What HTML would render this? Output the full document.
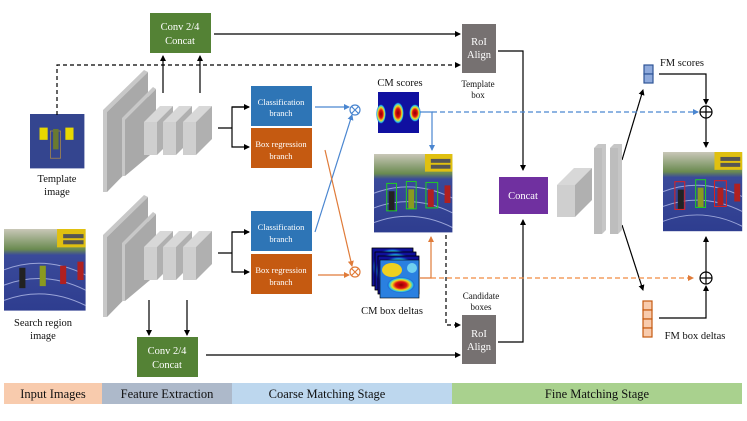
<!DOCTYPE html>
<html><head><meta charset="utf-8"><style>
body{margin:0;background:#fff}
svg{display:block;font-family:"Liberation Serif",serif}
</style></head><body>
<svg width="747" height="421" viewBox="0 0 747 421" xmlns="http://www.w3.org/2000/svg">
<defs>
<marker id="a" markerWidth="6" markerHeight="6" refX="5" refY="3" orient="auto" markerUnits="userSpaceOnUse"><path d="M0,0 L6,3 L0,6z" fill="#000"/></marker>
<marker id="ab" markerWidth="6" markerHeight="6" refX="5" refY="3" orient="auto" markerUnits="userSpaceOnUse"><path d="M0,0 L6,3 L0,6z" fill="#4a86d0"/></marker>
<marker id="ao" markerWidth="6" markerHeight="6" refX="5" refY="3" orient="auto" markerUnits="userSpaceOnUse"><path d="M0,0 L6,3 L0,6z" fill="#e07b39"/></marker>
<g id="bb">
<polygon points="103,110 144,70 148,72 107,112 107,192 103,192" fill="#c8c8c8"/>
<polygon points="107,112 148,72 148,150 107,192" fill="#a9a9a9"/>
<polygon points="122,118 153,87 156,89 125,120 125,176 122,176" fill="#c8c8c8"/>
<polygon points="125,120 156,89 156,150 125,176" fill="#a9a9a9"/>
<g id="cube"><polygon points="144,122 157,122 173,106 160,106" fill="#d8d8d8"/><rect x="144" y="122" width="13" height="33" fill="#cfcfcf"/><polygon points="157,122 173,106 173,139 157,155" fill="#b0b0b0"/></g>
<use href="#cube" x="19"/><use href="#cube" x="39"/>
</g>
<linearGradient id="track" x1="0" y1="0" x2="0" y2="1"><stop offset="0" stop-color="#c9c7b8"/><stop offset="0.25" stop-color="#6a8a50"/><stop offset="0.32" stop-color="#3a4a9a"/><stop offset="1" stop-color="#2e3d8f"/></linearGradient>
<radialGradient id="hot"><stop offset="0" stop-color="#8a0000"/><stop offset="0.4" stop-color="#e01010"/><stop offset="0.65" stop-color="#f0e020"/><stop offset="0.85" stop-color="#20c0f0"/><stop offset="1" stop-color="#1010b0" stop-opacity="0"/></radialGradient>
<g id="scene">
<rect width="80" height="80" fill="url(#track)"/>
<rect x="52" y="0" width="28" height="18" fill="#e0c010"/><rect x="58" y="5" width="20" height="4" fill="#555"/><rect x="58" y="11" width="20" height="4" fill="#555"/>
<path d="M0,40 Q40,25 80,45 M0,55 Q40,40 80,60 M0,70 Q40,55 80,75" stroke="#9aa4d8" stroke-width="1" fill="none"/>
<rect x="15" y="38" width="6" height="20" fill="#222"/><rect x="35" y="36" width="6" height="20" fill="#8a9a20"/><rect x="55" y="36" width="6" height="18" fill="#b02020"/><rect x="72" y="32" width="6" height="18" fill="#b02020"/>
</g>
<g id="hm"><rect width="41" height="38" fill="#10109a"/><rect width="41" height="38" fill="url(#hot)" opacity=".9"/><ellipse cx="24" cy="22" rx="10" ry="6" fill="url(#hot)"/></g>
</defs>

<rect x="4" y="383" width="98" height="21" fill="#f8cbad"/>
<rect x="102" y="383" width="130" height="21" fill="#adb9ca"/>
<rect x="232" y="383" width="220" height="21" fill="#bdd7ee"/>
<rect x="452" y="383" width="290" height="21" fill="#a9d18e"/>
<g font-size="12.5" text-anchor="middle" fill="#111">
<text x="53" y="398">Input Images</text><text x="167" y="398">Feature Extraction</text><text x="327" y="398">Coarse Matching Stage</text><text x="597" y="398">Fine Matching Stage</text>
</g>

<use href="#bb"/><use href="#bb" y="125"/>

<g transform="translate(30,114) scale(0.68)"><rect width="80" height="80" fill="#34458f"/><rect x="14" y="20" width="12" height="18" fill="#e8d800"/><rect x="52" y="20" width="12" height="18" fill="#e8d800"/><rect x="30" y="25" width="15" height="40" fill="none" stroke="#b89040"/><rect x="34" y="22" width="8" height="30" fill="#6a7a30"/></g>
<g transform="translate(4,229) scale(1.02)"><use href="#scene"/></g>
<g transform="translate(374,154) scale(0.98)"><use href="#scene"/><g fill="none" stroke="#20d020" stroke-width="1"><rect x="13" y="30" width="10" height="28"/><rect x="33" y="28" width="10" height="28"/><rect x="53" y="29" width="12" height="26"/></g></g>
<g transform="translate(663,152) scale(0.99)"><use href="#scene"/><g fill="none" stroke-width="1"><rect x="12" y="30" width="10" height="28" stroke="#e02020"/><rect x="33" y="28" width="10" height="28" stroke="#20d020"/><rect x="52" y="29" width="12" height="26" stroke="#e02020"/></g></g>

<g font-size="10.5" text-anchor="middle" fill="#111">
<text x="57" y="182">Template</text><text x="57" y="195">image</text>
<text x="43" y="326">Search region</text><text x="43" y="339">image</text>
</g>

<rect x="150" y="13" width="61" height="40" fill="#548235"/>
<rect x="137" y="337" width="61" height="40" fill="#548235"/>
<g font-size="10.5" text-anchor="middle" fill="#fff">
<text x="180" y="30">Conv 2/4</text><text x="180" y="44">Concat</text>
<text x="167" y="354">Conv 2/4</text><text x="167" y="368">Concat</text>
</g>
<g stroke="#000" stroke-width="1.2" fill="none">
<line x1="163" y1="93" x2="163" y2="56" marker-end="url(#a)"/>
<line x1="200" y1="93" x2="200" y2="56" marker-end="url(#a)"/>
<line x1="149" y1="300" x2="149" y2="335" marker-end="url(#a)"/>
<line x1="187" y1="300" x2="187" y2="335" marker-end="url(#a)"/>
<line x1="214" y1="34" x2="460" y2="34" marker-end="url(#a)"/>
<line x1="206" y1="355" x2="460" y2="355" marker-end="url(#a)"/>
<path d="M57,115 V65 H460" stroke-dasharray="4,3" marker-end="url(#a)"/>
<path d="M218,128 H232 V107 H249 M232,128 V147 H249" marker-end="url(#a)"/>
<path d="M218,253 H232 V232 H249 M232,253 V272 H249" marker-end="url(#a)"/>
<line x1="232" y1="107" x2="249" y2="107" marker-end="url(#a)"/>
<line x1="232" y1="232" x2="249" y2="232" marker-end="url(#a)"/>
<path d="M446,235 V325 H460" stroke-dasharray="4,3" marker-end="url(#a)"/>
<path d="M498,51 H523 V170" marker-end="url(#a)"/>
<path d="M498,342 H523 V220" marker-end="url(#a)"/>
<line x1="622" y1="160" x2="643" y2="90" marker-end="url(#a)"/>
<line x1="622" y1="225" x2="643" y2="290" marker-end="url(#a)"/>
<path d="M659,74 H706 V104" marker-end="url(#a)"/>
<line x1="706" y1="118" x2="706" y2="147" marker-end="url(#a)"/>
<line x1="706" y1="272" x2="706" y2="237" marker-end="url(#a)"/>
<path d="M659,318 H706 V286" marker-end="url(#a)"/>
</g>

<rect x="251" y="86" width="61" height="40" fill="#2e75b6"/>
<rect x="251" y="128" width="61" height="40" fill="#c55a11"/>
<rect x="251" y="211" width="61" height="40" fill="#2e75b6"/>
<rect x="251" y="254" width="61" height="40" fill="#c55a11"/>
<g font-size="8.5" text-anchor="middle" fill="#fff">
<text x="281" y="105">Classification</text><text x="281" y="116">branch</text>
<text x="281" y="147">Box regression</text><text x="281" y="159">branch</text>
<text x="281" y="230">Classification</text><text x="281" y="242">branch</text>
<text x="281" y="273">Box regression</text><text x="281" y="285">branch</text>
</g>

<g fill="none" stroke-width="1.2">
<line x1="315" y1="107" x2="349" y2="107" stroke="#4a86d0" marker-end="url(#ab)"/>
<line x1="315" y1="232" x2="352" y2="115" stroke="#4a86d0" marker-end="url(#ab)"/>
<line x1="325" y1="150" x2="352" y2="266" stroke="#e07b39" marker-end="url(#ao)"/>
<line x1="318" y1="275" x2="349" y2="275" stroke="#e07b39" marker-end="url(#ao)"/>
<circle cx="355" cy="110" r="5" stroke="#4a86d0"/><path d="M351.5,106.5 l7,7 M358.5,106.5 l-7,7" stroke="#4a86d0"/>
<circle cx="355" cy="272" r="5" stroke="#e07b39"/><path d="M351.5,268.5 l7,7 M358.5,268.5 l-7,7" stroke="#e07b39"/>
<path d="M420,112 H432 V150" stroke="#4a86d0" marker-end="url(#ab)"/>
<line x1="432" y1="112" x2="698" y2="112" stroke="#4a86d0" stroke-dasharray="5,3" marker-end="url(#ab)"/>
<path d="M420,278 H431 V237" stroke="#e07b39" marker-end="url(#ao)"/>
<line x1="431" y1="278" x2="693" y2="278" stroke="#f08a40" stroke-dasharray="5,3" marker-end="url(#ao)"/>
<circle cx="706" cy="112" r="6" stroke="#000"/><path d="M700,112 h12 M706,106 v12" stroke="#000"/>
<circle cx="706" cy="278" r="6" stroke="#000"/><path d="M700,278 h12 M706,272 v12" stroke="#000"/>
</g>

<rect x="378" y="92" width="41" height="41" fill="#1010a0"/>
<g><ellipse cx="381" cy="114" rx="5" ry="10" fill="url(#hot)"/><ellipse cx="398" cy="113" rx="6" ry="11" fill="url(#hot)"/><ellipse cx="415" cy="113" rx="6" ry="9" fill="url(#hot)"/></g>
<g stroke="#000" stroke-width=".6">
<use href="#hm" x="372" y="248"/><use href="#hm" x="375" y="252"/><use href="#hm" x="378" y="256"/>
</g>
<rect x="380" y="260" width="39" height="38" fill="#2a80e0" stroke="#000" stroke-width=".6"/>
<ellipse cx="392" cy="270" rx="10" ry="7" fill="#f0d020"/><ellipse cx="401" cy="285" rx="14" ry="8" fill="url(#hot)"/><ellipse cx="412" cy="268" rx="5" ry="5" fill="#70d0f0"/>

<g font-size="10.5" text-anchor="middle" fill="#111">
<text x="400" y="86">CM scores</text>
<text x="392" y="314">CM box deltas</text>
<text x="478" y="87" font-size="9">Template</text><text x="478" y="98" font-size="9">box</text>
<text x="481" y="299" font-size="9">Candidate</text><text x="481" y="310" font-size="9">boxes</text>
<text x="682" y="66">FM scores</text>
<text x="695" y="339">FM box deltas</text>
</g>

<rect x="462" y="24" width="34" height="49" fill="#767171"/>
<rect x="462" y="315" width="34" height="49" fill="#767171"/>
<g font-size="10.5" text-anchor="middle" fill="#fff">
<text x="479" y="45">RoI</text><text x="479" y="58">Align</text>
<text x="479" y="337">RoI</text><text x="479" y="350">Align</text>
</g>
<rect x="499" y="177" width="49" height="37" fill="#7030a0"/>
<text x="523" y="199" font-size="10.5" text-anchor="middle" fill="#fff">Concat</text>

<polygon points="557,185 574,168 592,168 575,185" fill="#d8d8d8"/>
<rect x="557" y="185" width="18" height="32" fill="#cfcfcf"/>
<polygon points="575,185 592,168 592,200 575,217" fill="#b0b0b0"/>
<polygon points="594,148 598,144 606,144 606,230 602,234 594,234" fill="#c6c6c6"/>
<rect x="594" y="148" width="8" height="86" fill="#bdbdbd"/>
<polygon points="610,148 614,144 622,144 622,230 618,234 610,234" fill="#c6c6c6"/>
<rect x="610" y="148" width="8" height="86" fill="#bdbdbd"/>

<g stroke="#2f5597" stroke-width="1.2" fill="#8faadc"><rect x="644" y="65" width="9" height="9"/><rect x="644" y="74" width="9" height="9"/></g>
<g stroke="#c55a11" stroke-width="1.2" fill="#f8cbad"><rect x="643" y="301" width="9" height="9"/><rect x="643" y="310" width="9" height="9"/><rect x="643" y="319" width="9" height="9"/><rect x="643" y="328" width="9" height="9"/></g>
</svg>
</body></html>
